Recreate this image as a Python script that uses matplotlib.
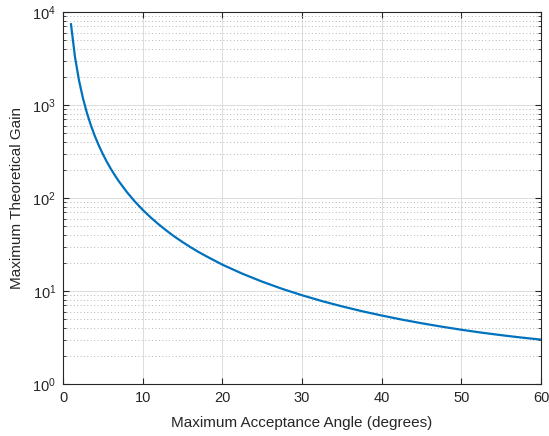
import numpy as np
from matplotlib import pyplot as plt

# sudut penerimaan maksimum (derajat) dan gain teoretis maksimum
sudut = [1, 1.5, 2, 2.5, 3, 3.5, 4, 4.5, 5, 5.5, 6, 6.5, 7, 8, 9, 10, 11, 12,
         13, 14, 15, 16, 17, 18, 20, 22.5, 25, 27.5, 30, 32.5, 35, 37.5, 40,
         42.5, 45, 47.5, 50, 52.5, 55, 57.5, 60]
gain = [7387, 3284, 1847, 1183, 821, 604, 462, 365.5, 296, 244.9, 206, 175.6,
        151.5, 116.2, 91.9, 74.6, 61.8, 52.1, 44.5, 38.4, 33.6, 29.6, 26.3,
        23.6, 19.2, 15.36, 12.6, 10.55, 9.0, 7.79, 6.84, 6.07, 5.45, 4.93,
        4.5, 4.14, 3.83, 3.57, 3.35, 3.16, 3.0]

plt.rcParams['font.family'] = ['Liberation Sans', 'DejaVu Sans']
abu = '#262626'

fig = plt.figure(figsize=(5.49, 4.36), dpi=100)
ax = fig.add_axes([0.1148, 0.1193, 0.8706, 0.8532])

ax.plot(sudut, gain, color='#0072BD', linewidth=1.6)
ax.set_yscale('log')
ax.set_xlim(0, 60)
ax.set_ylim(1, 1e4)
ax.set_xticks([0, 10, 20, 30, 40, 50, 60])

ax.grid(True, which='major', color='#dcdcdc', linewidth=0.7)
ax.grid(True, which='minor', axis='y', color='#b4b4b4', linestyle=(0, (1, 2.5)), linewidth=0.7)
ax.set_axisbelow(True)

ax.tick_params(which='both', direction='in', top=True, right=True, colors=abu,
               labelsize=10.5)
ax.tick_params(which='major', length=4, pad=5)
ax.tick_params(which='minor', length=2)
for s in ax.spines.values():
    s.set_color(abu)
    s.set_linewidth(0.8)

ax.set_xlabel('Maximum Acceptance Angle (degrees)', fontsize=11, color=abu, labelpad=8)
ax.set_ylabel('Maximum Theoretical Gain', fontsize=11, color=abu, labelpad=6)

plt.savefig('out.png', dpi=100)
